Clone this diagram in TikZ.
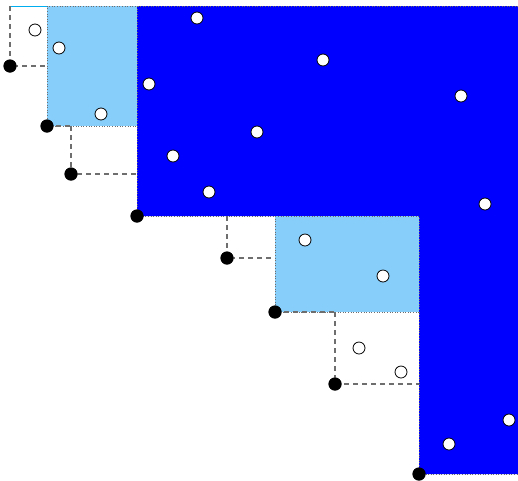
\documentclass[tikz,border=0pt]{standalone}
\definecolor{lsb}{RGB}{135,206,250}
\definecolor{dgray}{RGB}{110,110,110}
\begin{document}
\begin{tikzpicture}[x=1pt,y=-1pt,
  wdot/.style={circle,draw=black,fill=white,line width=0.8pt,minimum size=12pt,inner sep=0pt},
  bdot/.style={circle,fill=black,minimum size=13pt,inner sep=0pt},
  dashline/.style={dgray,dash pattern=on 5pt off 4pt,line width=1.2pt},
  dotline/.style={dgray,dotted,line width=0.6pt}]
\useasboundingbox (0,0) rectangle (518,480);
% regions
\fill[blue] (137,6) -- (518,6) -- (518,474) -- (419,474) -- (419,216) -- (137,216) -- cycle;
\fill[lsb] (47,6) rectangle (137,126);
\fill[lsb] (275,216) rectangle (419,312);
\draw[dotline] (47,126) -- (47,6) -- (518,6);
\draw[dotline] (47,126) -- (137,126);
\draw[dotline] (137,6) -- (137,216) -- (419,216) -- (419,474) -- (518,474);
\draw[dotline] (275,216) -- (275,312) -- (419,312);
\draw[cyan,line width=0.8pt] (10,6) -- (47,6);
% coordinates
\coordinate (t1) at (10,6);   \coordinate (r1) at (47,66);
\coordinate (t3) at (71,126); \coordinate (r3) at (137,174);
\coordinate (t5) at (227,216);\coordinate (r5) at (275,258);
\coordinate (t7) at (335,312);\coordinate (r7) at (419,384);
\coordinate (e2) at (71,126);
\coordinate (e6) at (335,312);
% black dots
\node[bdot] (b1) at (10,66) {};
\node[bdot] (b2) at (47,126) {};
\node[bdot] (b3) at (71,174) {};
\node[bdot] (b4) at (137,216) {};
\node[bdot] (b5) at (227,258) {};
\node[bdot] (b6) at (275,312) {};
\node[bdot] (b7) at (335,384) {};
\node[bdot] (b8) at (419,474) {};
% dashed lines
\draw[dashline] (t1) -- (b1.center) -- (r1);
\draw[dashline] (t3) -- (b3.center) -- (r3);
\draw[dashline] (t5) -- (b5.center) -- (r5);
\draw[dashline] (t7) -- (b7.center) -- (r7);
\draw[dashline] (b2.center) -- (e2);
\draw[dashline] (b6.center) -- (e6);
\foreach \n in {b1,b2,b3,b4,b5,b6,b7,b8} \node[bdot] at (\n) {};
% white dots
\node[wdot] (w1) at (35,30) {};
\node[wdot] (w2) at (59,48) {};
\node[wdot] (w3) at (101,114) {};
\node[wdot] (w4) at (197,18) {};
\node[wdot] (w5) at (323,60) {};
\node[wdot] (w6) at (149,84) {};
\node[wdot] (w7) at (257,132) {};
\node[wdot] (w8) at (173,156) {};
\node[wdot] (w9) at (209,192) {};
\node[wdot] (w10) at (461,96) {};
\node[wdot] (w11) at (485,204) {};
\node[wdot] (w12) at (305,240) {};
\node[wdot] (w13) at (383,276) {};
\node[wdot] (w14) at (359,348) {};
\node[wdot] (w15) at (401,372) {};
\node[wdot] (w16) at (509,420) {};
\node[wdot] (w17) at (449,444) {};
\end{tikzpicture}
\end{document}
